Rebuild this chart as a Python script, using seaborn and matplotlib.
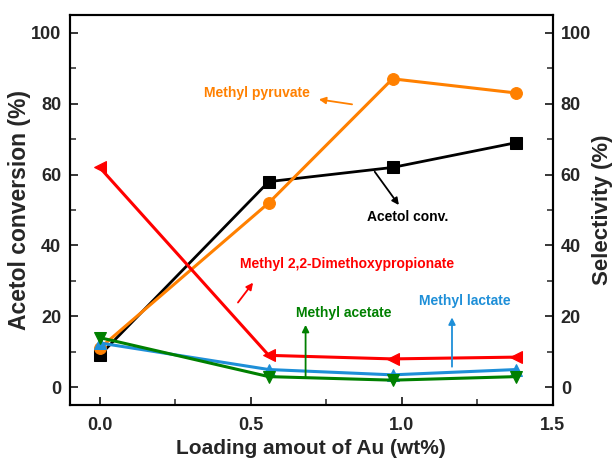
import numpy as np
import pandas as pd
import matplotlib
matplotlib.use("Agg")
import matplotlib.pyplot as plt
from matplotlib.ticker import MultipleLocator
import seaborn as sns

# Au loading (wt%)
au_loading = [0.0, 0.56, 0.97, 1.38]

# Acetol conversion (%) and product selectivities (%)
acetol_conv = [9, 58, 62, 69]
methyl_pyruvate = [11, 52, 87, 83]
methyl_dmp = [62, 9, 8, 8.5]
methyl_lactate = [12.5, 5, 3.5, 5]
methyl_acetate = [14, 3, 2, 3]

y_ticks = [0, 20, 40, 60, 80, 100]
x_ticks = [0.0, 0.5, 1.0, 1.5]

sns.set_theme(style="white")
plt.rcParams["font.family"] = ["Liberation Sans", "DejaVu Sans"]
plt.rcParams["font.weight"] = "bold"

C_BLACK = "#000000"
C_ORANGE = "#FF8000"
C_RED = "#FF0000"
C_BLUE = "#1E8FD8"
C_GREEN = "#008000"

fig = plt.figure(figsize=(6.12, 4.63), dpi=100)
ax = fig.add_axes([0.1136, 0.1253, 0.7892, 0.8423])
ax2 = ax.twinx()

sns.lineplot(x=au_loading, y=acetol_conv, ax=ax, color=C_BLACK, marker="s",
             markersize=8, markeredgecolor=C_BLACK, linewidth=2, zorder=5)

series = [
    (methyl_pyruvate, C_ORANGE, "o", 8.5),
    (methyl_dmp, C_RED, "<", 9),
    (methyl_lactate, C_BLUE, "^", 9),
    (methyl_acetate, C_GREEN, "v", 9),
]
for vals, col, mk, ms in series:
    sns.lineplot(x=au_loading, y=vals, ax=ax2, color=col, marker=mk,
                 markersize=ms, markeredgecolor=col, linewidth=2.2)

for a in (ax, ax2):
    a.set_xlim(-0.1, 1.5)
    a.set_ylim(-5, 105)
    a.yaxis.set_major_locator(MultipleLocator(20))
    a.yaxis.set_minor_locator(MultipleLocator(10))
    for s in a.spines.values():
        s.set_linewidth(1.5)
        s.set_color("black")

ax.xaxis.set_major_locator(MultipleLocator(0.5))
ax.xaxis.set_minor_locator(MultipleLocator(0.25))
ax.set_xticks(x_ticks)
ax.set_xticklabels([f"{t:.1f}" for t in x_ticks])
ax.set_yticks(y_ticks)
ax.set_yticklabels([str(t) for t in y_ticks])
ax2.set_yticks(y_ticks)
ax2.set_yticklabels([str(t) for t in y_ticks])

ax.tick_params(axis="x", which="major", direction="in", length=6, width=1.3,
               labelsize=13, pad=9, top=False, bottom=True)
ax.tick_params(axis="y", which="major", direction="in", length=6, width=1.3,
               labelsize=13, pad=6, left=True, right=False)
ax.tick_params(axis="both", which="minor", direction="in", length=4, width=1.1,
               top=False, right=False, bottom=True, left=True)
ax2.tick_params(axis="y", which="major", direction="in", length=6, width=1.3,
                labelsize=13, pad=6, right=True)
ax2.tick_params(axis="y", which="minor", direction="in", length=4, width=1.1, right=True)
for lab in ax.get_xticklabels() + ax.get_yticklabels() + ax2.get_yticklabels():
    lab.set_fontweight("bold")

ax.set_xlabel("Loading amout of Au (wt%)", fontsize=15, fontweight="bold", labelpad=3)
ax.set_ylabel("Acetol conversion (%)", fontsize=16.5, fontweight="bold", labelpad=0)
ax2.set_ylabel("Selectivity (%)", fontsize=16, fontweight="bold", labelpad=1)

# Labels with pointer arrows
notes = [
    ("Methyl pyruvate", C_ORANGE, (0.52, 82.9), (0.836, 79.8), (0.726, 81.2)),
    ("Acetol conv.", C_BLACK, (1.02, 48.1), (0.911, 60.8), (0.991, 51.4)),
    ("Methyl 2,2-Dimethoxypropionate", C_RED, (0.82, 34.8), (0.458, 23.9), (0.508, 29.5)),
    ("Methyl acetate", C_GREEN, (0.81, 20.9), (0.682, 3.0), (0.682, 17.6)),
    ("Methyl lactate", C_BLUE, (1.21, 24.4), (1.167, 5.8), (1.167, 19.7)),
]
for text, col, pos, tail, head in notes:
    ax2.text(pos[0], pos[1], text, color=col, fontsize=10, fontweight="bold",
             ha="center", va="center")
    ax2.annotate("", xy=head, xytext=tail,
                 arrowprops=dict(arrowstyle="-|>", color=col, lw=1.3,
                                 mutation_scale=10, shrinkA=0, shrinkB=0))

fig.savefig("out.png", dpi=100)
